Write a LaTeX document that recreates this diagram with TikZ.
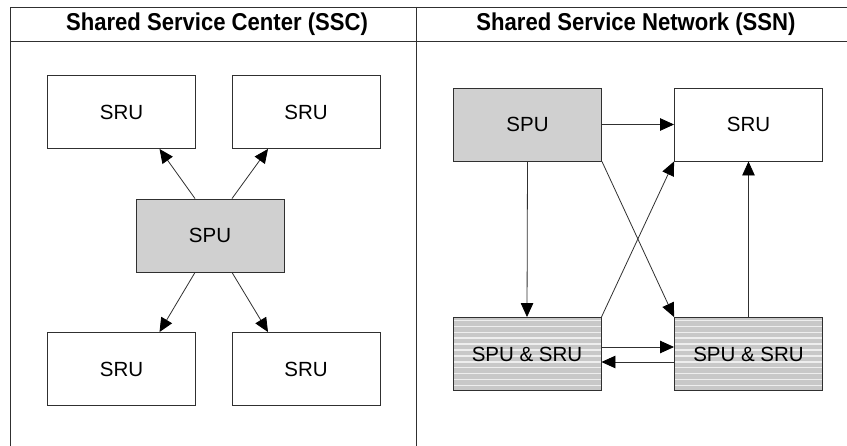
\documentclass[tikz,border=0pt]{standalone}
\usepackage{fontspec}
\setmainfont{Liberation Sans}
\usetikzlibrary{arrows.meta,calc}

\definecolor{edge}{HTML}{303030}
\definecolor{spufill}{HTML}{D0D0D0}
\definecolor{stripedark}{HTML}{C8C8C8}
\definecolor{stripelight}{HTML}{EEEEEE}

\tikzset{
  unitbox/.style={draw=edge, line width=0.9pt, minimum width=148pt, minimum height=73pt,
                  inner sep=0pt, font=\fontsize{20.5}{24}\selectfont},
  srubox/.style={unitbox, fill=white},
  spubox/.style={unitbox, fill=spufill},
  mixbox/.style={unitbox, fill=stripedark,
    path picture={
      \foreach \k in {0,...,12}
        \draw[stripelight, line width=1.5pt]
          ([yshift={-3pt-\k*5.9pt}]path picture bounding box.north west) --
          ([yshift={-3pt-\k*5.9pt}]path picture bounding box.north east);
    }},
  arr/.style={draw=edge, line width=0.8pt,
              -{Triangle[length=14pt,width=12.5pt,color=black]}},
  frame/.style={draw=edge, line width=0.9pt},
  headtext/.style={font=\fontsize{23}{28}\selectfont\bfseries}
}

\begin{document}
\begin{tikzpicture}[x=1pt, y=-1pt]
  \useasboundingbox (0,0) rectangle (847,446);

  % table frame
  \draw[frame] (10,446) -- (10,7) -- (856,7);
  \draw[frame] (10,41) -- (856,41);
  \draw[frame] (416,7) -- (416,446);

  \node[headtext] (hssc) at (217,24) {\scalebox{0.96}[1.06]{Shared Service Center (SSC)}};
  \node[headtext] (hssn) at (636,24) {\scalebox{0.96}[1.06]{Shared Service Network (SSN)}};

  % Shared Service Center
  \node[srubox] (sruA) at (121.5,112) {SRU};
  \node[srubox] (sruB) at (306,112) {SRU};
  \node[spubox] (spuC) at (210,235.5) {SPU};
  \node[srubox] (sruD) at (121.5,369) {SRU};
  \node[srubox] (sruE) at (306,369) {SRU};

  \draw[arr] ([xshift=-15pt]spuC.north) -- ([xshift=38pt]sruA.south);
  \draw[arr] ([xshift=22pt]spuC.north) -- ([xshift=-38pt]sruB.south);
  \draw[arr] ([xshift=-15pt]spuC.south) -- ([xshift=38pt]sruD.north);
  \draw[arr] ([xshift=22pt]spuC.south) -- ([xshift=-38pt]sruE.north);

  % Shared Service Network
  \node[spubox] (spuN) at (527.5,124.5) {SPU};
  \node[srubox] (sruN) at (748.5,124.5) {SRU};
  \node[mixbox] (mixL) at (527,354) {SPU \& SRU};
  \node[mixbox] (mixR) at (748.5,354) {SPU \& SRU};

  \draw[arr] (spuN.east) -- (sruN.west);
  \draw[arr] (spuN.south) -- (mixL.north);
  \draw[arr] (spuN.south east) -- (mixR.north west);
  \draw[arr] (mixL.north east) -- (sruN.south west);
  \draw[arr] (mixR.north) -- (sruN.south);
  \draw[arr] ([yshift=7pt]mixL.east) -- ([yshift=7pt]mixR.west);
  \draw[arr] ([yshift=-8pt]mixR.west) -- ([yshift=-8pt]mixL.east);
\end{tikzpicture}
\end{document}
